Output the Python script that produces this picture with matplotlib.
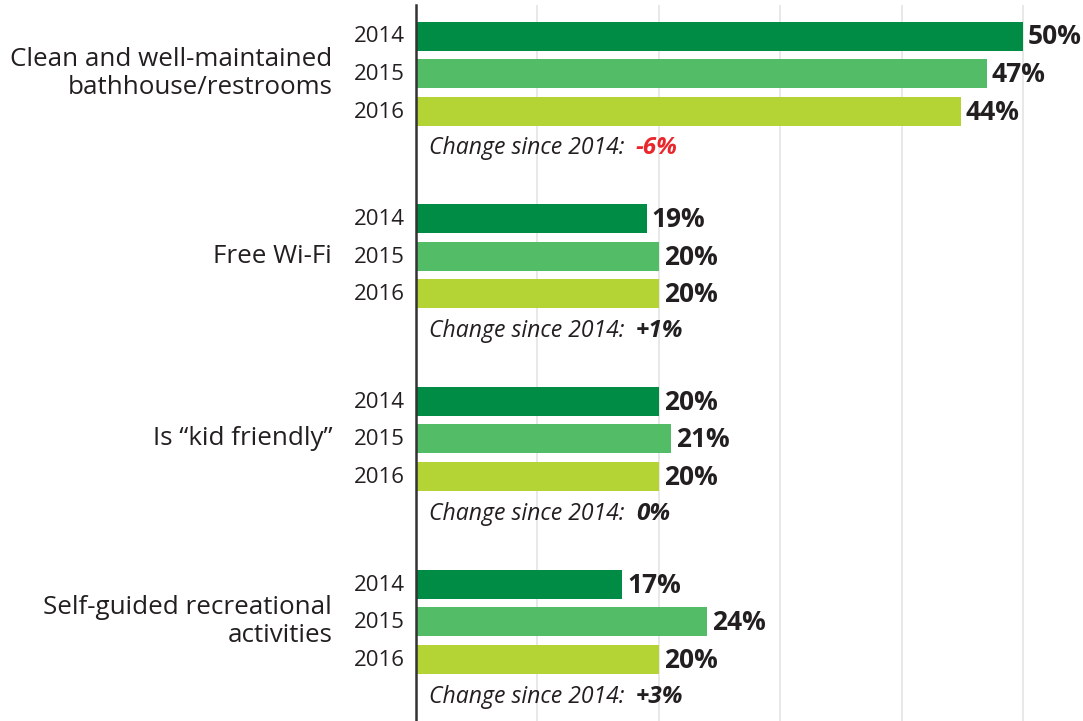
import matplotlib.pyplot as plt

plt.rcParams['font.family'] = ['Open Sans', 'DejaVu Sans']

# data
categories = ["Clean and well-maintained\nbathhouse/restrooms", "Free Wi-Fi",
              "Is \u201ckid friendly\u201d", "Self-guided recreational\nactivities"]
years = ["2014", "2015", "2016"]
values_2014 = [50, 19, 20, 17]
values_2015 = [47, 20, 21, 24]
values_2016 = [44.9, 20, 20, 20]   # first bar is drawn a bit long in the original
changes = ["-6%", "+1%", "0%", "+3%"]

colors = ["#008C44", "#53BC67", "#B4D334"]
text_col = "#231F20"

W, H = 1083, 721
fig = plt.figure(figsize=(W / 100, H / 100), dpi=100)
left = 416
ax = fig.add_axes([left / W, 0, (W - left) / W, 1])
px = 12.14  # pixels per percent
ax.set_xlim(0, (W - left) / px)
ax.set_ylim(H, 0)

# layout in pixel rows
group_step = 182.7
first = 36
bar_step = 37.5
bar_h = 29

for xv in [10, 20, 30, 40, 50]:
    ax.vlines(xv, 5, H, color="#E6E6E6", lw=1.3, zorder=0)

series = [values_2014, values_2015, values_2016]
for i, cat in enumerate(categories):
    base = first + i * group_step
    for j, vals in enumerate(series):
        y = base + j * bar_step
        ax.barh(y, vals[i], height=bar_h, color=colors[j], zorder=2)
        ax.text(vals[i] + 0.4, y + 1, f"{int(vals[i])}%", va="center", ha="left",
                fontsize=19, fontweight="bold", color=text_col)
        ax.text(-0.9, y + 1, years[j], va="center", ha="right",
                fontsize=16, color=text_col, clip_on=False)
    # category label
    ax.text(-6.9, base + bar_step, cat, va="center", ha="right", fontsize=18.7,
            color=text_col, linespacing=1.12, clip_on=False)
    # change note
    ty = base + 3 * bar_step
    t = ax.text(1.1, ty, "Change since 2014:", va="center", ha="left",
                fontsize=16.6, style="italic", color=text_col)
    fig.canvas.draw()
    bb = t.get_window_extent()
    x_end = ax.transData.inverted().transform((bb.x1, 0))[0]
    ax.text(x_end + 0.9, ty, changes[i], va="center", ha="left", fontsize=17.5,
            style="italic", fontweight="bold",
            color="#E8262B" if changes[i].startswith("-") else text_col)

for s in ["top", "right", "bottom"]:
    ax.spines[s].set_visible(False)
ax.spines["left"].set_bounds(H, 5)
ax.spines["left"].set_linewidth(1.8)
ax.spines["left"].set_color("#333333")
ax.set_xticks([])
ax.set_yticks([])

fig.savefig("out.png", dpi=100)
